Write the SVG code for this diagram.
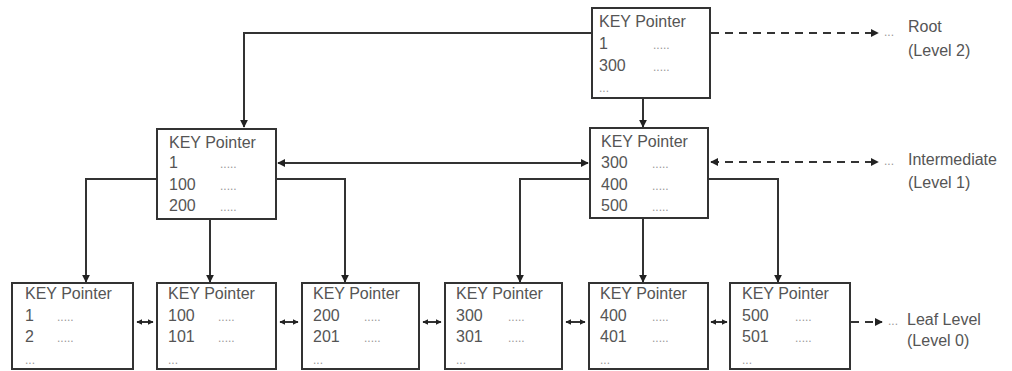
<svg xmlns="http://www.w3.org/2000/svg" width="1012" height="371" viewBox="0 0 1012 371">
<style>
.box{fill:#fff;stroke:#333;stroke-width:2}
.t{font-family:"Liberation Sans",Arial,sans-serif;font-size:16px;fill:#555}
.d{font-family:"Liberation Sans",Arial,sans-serif;font-size:12px;fill:#999}
.c{fill:none;stroke:#333;stroke-width:2}
.dash{fill:none;stroke:#333;stroke-width:2;stroke-dasharray:8,6}
</style>
<defs>
<marker id="ah" viewBox="0 0 10 10" refX="9" refY="5" markerWidth="4" markerHeight="4" orient="auto-start-reverse" markerUnits="strokeWidth">
<path d="M0,0 L10,5 L0,10 z" fill="#222"/>
</marker>
<marker id="sh" viewBox="0 0 10 10" refX="9" refY="5" markerWidth="3" markerHeight="3" orient="auto-start-reverse" markerUnits="strokeWidth">
<path d="M0,0 L10,5 L0,10 z" fill="#222"/>
</marker>
</defs>
<rect width="1012" height="371" fill="#fff"/>

<g id="connectors">
<path class="c" d="M592,33 H244 V127" marker-end="url(#ah)"/>
<path class="c" d="M643,98 V127" marker-end="url(#ah)"/>
<path class="c" d="M278,163 H588" marker-start="url(#ah)" marker-end="url(#ah)"/>
<path class="c" d="M157,179 H86 V282" marker-end="url(#ah)"/>
<path class="c" d="M210,219 V282" marker-end="url(#ah)"/>
<path class="c" d="M276,179 H345 V282" marker-end="url(#ah)"/>
<path class="c" d="M590,179 H520 V282" marker-end="url(#ah)"/>
<path class="c" d="M643,218 V282" marker-end="url(#ah)"/>
<path class="c" d="M708,179 H778 V282" marker-end="url(#ah)"/>
<path class="c" d="M137,322 H153" marker-start="url(#sh)" marker-end="url(#sh)"/>
<path class="c" d="M280,322 H298" marker-start="url(#sh)" marker-end="url(#sh)"/>
<path class="c" d="M423,322 H441" marker-start="url(#sh)" marker-end="url(#sh)"/>
<path class="c" d="M566,322 H585" marker-start="url(#sh)" marker-end="url(#sh)"/>
<path class="c" d="M711,322 H727" marker-start="url(#sh)" marker-end="url(#sh)"/>
<path class="dash" d="M711,33 H878" marker-end="url(#ah)"/>
<path class="dash" d="M711,162 H878" marker-start="url(#ah)" marker-end="url(#ah)"/>
<path class="dash" d="M851,322 H882" marker-end="url(#ah)"/>
</g>

<g id="root">
<rect class="box" x="592" y="8" width="118" height="90"/>
<text class="t" x="599" y="27">KEY Pointer</text>
<text class="t" x="599" y="49">1</text><text class="d" x="653" y="49">.....</text>
<text class="t" x="599" y="71">300</text><text class="d" x="653" y="71">.....</text>
<text class="d" x="599" y="92">...</text>
</g>

<g id="int-left">
<rect class="box" x="157" y="129" width="119" height="90"/>
<text class="t" x="169" y="148">KEY Pointer</text>
<text class="t" x="169" y="168">1</text><text class="d" x="220" y="168">.....</text>
<text class="t" x="169" y="190">100</text><text class="d" x="220" y="190">.....</text>
<text class="t" x="169" y="211">200</text><text class="d" x="220" y="211">.....</text>
</g>

<g id="int-right">
<rect class="box" x="590" y="128" width="118" height="90"/>
<text class="t" x="601" y="147">KEY Pointer</text>
<text class="t" x="601" y="168">300</text><text class="d" x="652" y="168">.....</text>
<text class="t" x="601" y="190">400</text><text class="d" x="652" y="190">.....</text>
<text class="t" x="601" y="211">500</text><text class="d" x="652" y="211">.....</text>
</g>

<g id="leaf1">
<rect class="box" x="12" y="283" width="121" height="86"/>
<text class="t" x="25" y="299">KEY Pointer</text>
<text class="t" x="25" y="321">1</text><text class="d" x="57" y="321">.....</text>
<text class="t" x="25" y="342">2</text><text class="d" x="57" y="342">.....</text>
<text class="d" x="25" y="364">...</text>
</g>

<g id="leaf2">
<rect class="box" x="157" y="283" width="119" height="86"/>
<text class="t" x="168" y="299">KEY Pointer</text>
<text class="t" x="168" y="321">100</text><text class="d" x="218" y="321">.....</text>
<text class="t" x="168" y="342">101</text><text class="d" x="218" y="342">.....</text>
<text class="d" x="168" y="364">...</text>
</g>

<g id="leaf3">
<rect class="box" x="302" y="283" width="117" height="86"/>
<text class="t" x="313" y="299">KEY Pointer</text>
<text class="t" x="313" y="321">200</text><text class="d" x="364" y="321">.....</text>
<text class="t" x="313" y="342">201</text><text class="d" x="364" y="342">.....</text>
<text class="d" x="313" y="364">...</text>
</g>

<g id="leaf4">
<rect class="box" x="445" y="283" width="117" height="86"/>
<text class="t" x="456" y="299">KEY Pointer</text>
<text class="t" x="456" y="321">300</text><text class="d" x="508" y="321">.....</text>
<text class="t" x="456" y="342">301</text><text class="d" x="508" y="342">.....</text>
<text class="d" x="456" y="364">...</text>
</g>

<g id="leaf5">
<rect class="box" x="589" y="283" width="119" height="86"/>
<text class="t" x="600" y="299">KEY Pointer</text>
<text class="t" x="600" y="321">400</text><text class="d" x="652" y="321">.....</text>
<text class="t" x="600" y="342">401</text><text class="d" x="652" y="342">.....</text>
<text class="d" x="600" y="364">...</text>
</g>

<g id="leaf6">
<rect class="box" x="730" y="283" width="120" height="86"/>
<text class="t" x="742" y="299">KEY Pointer</text>
<text class="t" x="742" y="321">500</text><text class="d" x="795" y="321">.....</text>
<text class="t" x="742" y="342">501</text><text class="d" x="795" y="342">.....</text>
<text class="d" x="742" y="364">...</text>
</g>

<g id="labels">
<text class="d" x="884" y="36">...</text>
<text class="t" x="908" y="32">Root</text>
<text class="t" x="908" y="56">(Level 2)</text>
<text class="d" x="884" y="165">...</text>
<text class="t" x="908" y="165">Intermediate</text>
<text class="t" x="908" y="188">(Level 1)</text>
<text class="d" x="888" y="325">...</text>
<text class="t" x="907" y="325">Leaf Level</text>
<text class="t" x="907" y="346">(Level 0)</text>
</g>
</svg>
